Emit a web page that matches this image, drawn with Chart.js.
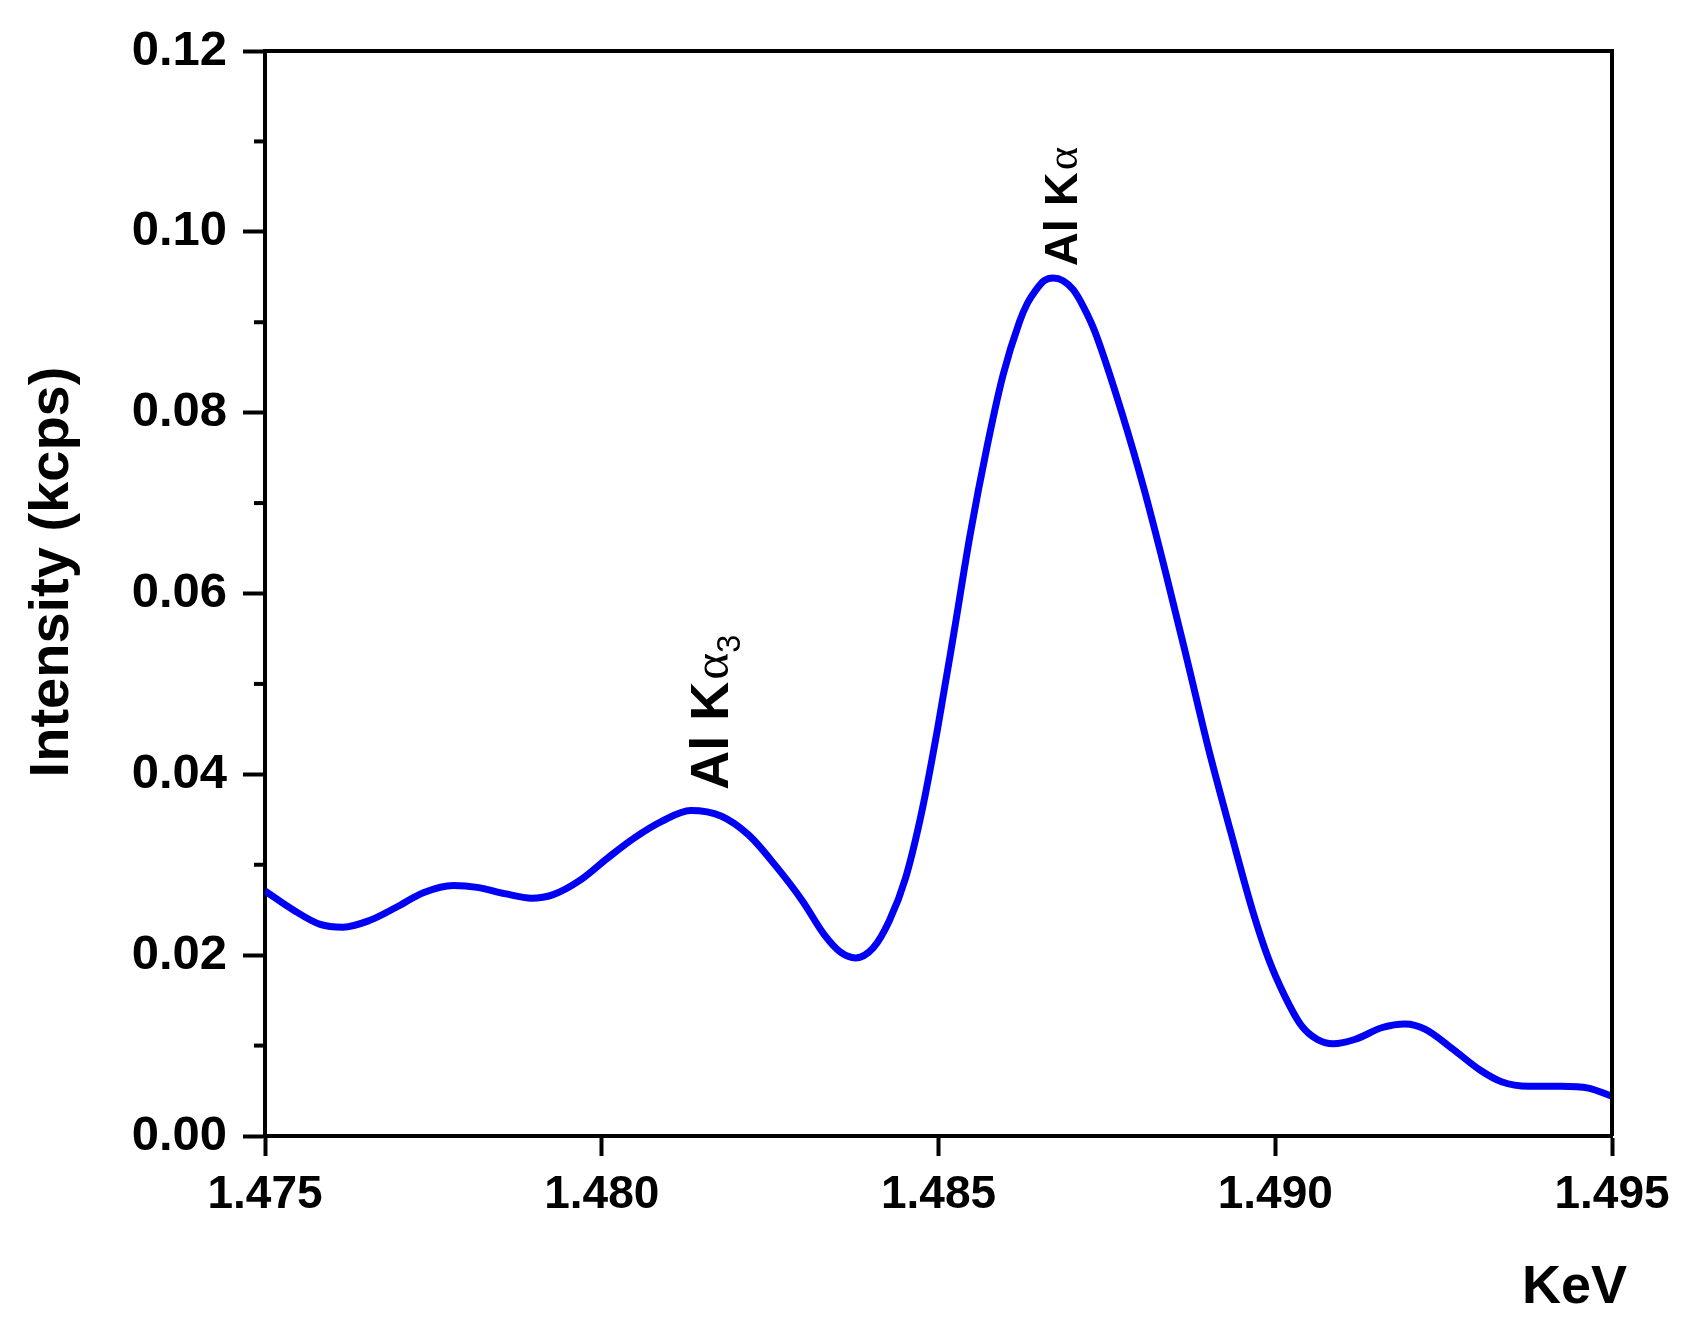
<!DOCTYPE html>
<html>
<head>
<meta charset="utf-8">
<script src="https://cdn.jsdelivr.net/npm/chart.js@4.4.1/dist/chart.umd.min.js"></script>
<style>
  html, body { margin: 0; padding: 0; background: #ffffff; }
  #wrap { width: 1702px; height: 1341px; position: relative; }
</style>
</head>
<body>
<div id="wrap"><canvas id="spectrum"></canvas></div>
<script>
const energy = [1.4750, 1.47542, 1.47582, 1.47616, 1.47654, 1.47695, 1.47735, 1.47780, 1.47815, 1.47856,
                1.47896, 1.47928, 1.47968, 1.48008, 1.48049, 1.48089, 1.48132, 1.48177, 1.48218, 1.48258,
                1.48298, 1.48330, 1.48355, 1.48377, 1.48403, 1.48427, 1.48451, 1.48475, 1.48499, 1.48523,
                1.48547, 1.48572, 1.48596, 1.48620, 1.48632, 1.48644, 1.48657, 1.48670, 1.48685, 1.48700,
                1.48716, 1.48732, 1.48773, 1.48805, 1.48837, 1.48869, 1.48902, 1.48934, 1.48966, 1.48990,
                1.49014, 1.49038, 1.49062, 1.49086, 1.49119, 1.49159, 1.49193, 1.49223, 1.49264, 1.49304,
                1.49336, 1.49376, 1.49424, 1.49465, 1.4950];
const intensity = [0.0271, 0.0250, 0.0234, 0.0231, 0.0238, 0.0253, 0.0269, 0.0277, 0.0275, 0.0268,
                   0.0263, 0.0267, 0.0283, 0.0307, 0.0330, 0.0348, 0.0360, 0.0354, 0.0333, 0.0299,
                   0.0260, 0.0223, 0.0203, 0.0197, 0.0208, 0.0238, 0.0285, 0.0358, 0.0452, 0.0557,
                   0.0665, 0.0762, 0.0842, 0.0900, 0.0921, 0.0935, 0.0946, 0.0949, 0.0946, 0.0936,
                   0.0916, 0.0890, 0.0798, 0.0716, 0.0624, 0.0527, 0.0425, 0.0336, 0.0250, 0.0196,
                   0.0155, 0.0123, 0.0107, 0.0102, 0.0107, 0.0120, 0.0124, 0.0118, 0.0096, 0.0073,
                   0.0060, 0.0055, 0.0055, 0.0053, 0.0044];

// Tick values
const xTicks = [1.475, 1.480, 1.485, 1.490, 1.495];
const yTicks = [0.00, 0.02, 0.04, 0.06, 0.08, 0.10, 0.12];
const yMinorTicks = [0.01, 0.03, 0.05, 0.07, 0.09, 0.11];

// Peak labels: [energy, intensity] where the rotated text baseline starts
const peakLabels = [
    { text: 'Al K', greek: '\u03B1', sub: '3', x: 1.48187, y: 0.0383, size: 54 },
    { text: 'Al K', greek: '\u03B1', sub: '',  x: 1.48706, y: 0.0962, size: 47 }
];

const points = energy.map((e, i) => ({ x: e, y: intensity[i] }));

// Frame, minor ticks, axis titles and peak labels
const decorations = {
    id: 'decorations',
    afterDraw(chart) {
        const ctx = chart.ctx;
        const area = chart.chartArea;
        const xs = chart.scales.x;
        const ys = chart.scales.y;
        ctx.save();

        // top and right frame lines
        ctx.strokeStyle = '#000';
        ctx.lineWidth = 4;
        ctx.beginPath();
        ctx.moveTo(area.left - 2, area.top);
        ctx.lineTo(area.right, area.top);
        ctx.lineTo(area.right, area.bottom);
        ctx.stroke();

        // minor ticks on the y axis
        yMinorTicks.forEach(v => {
            const py = ys.getPixelForValue(v);
            ctx.beginPath();
            ctx.moveTo(area.left, py);
            ctx.lineTo(area.left - 11, py);
            ctx.stroke();
        });

        ctx.fillStyle = '#000';

        // y title
        ctx.save();
        ctx.translate(68, 572);
        ctx.rotate(-Math.PI / 2);
        ctx.font = 'bold 56px "Liberation Sans", Arial, sans-serif';
        ctx.textAlign = 'center';
        ctx.textBaseline = 'alphabetic';
        ctx.fillText('Intensity (kcps)', 0, 0);
        ctx.restore();

        // x title
        ctx.font = 'bold 54px "Liberation Sans", Arial, sans-serif';
        ctx.textAlign = 'left';
        ctx.textBaseline = 'alphabetic';
        ctx.fillText('KeV', 1522, 1303);

        // rotated peak labels
        peakLabels.forEach(p => {
            const px = xs.getPixelForValue(p.x);
            const py = ys.getPixelForValue(p.y);
            ctx.save();
            ctx.translate(px, py);
            ctx.rotate(-Math.PI / 2);
            ctx.textAlign = 'left';
            ctx.textBaseline = 'alphabetic';
            ctx.font = 'bold ' + p.size + 'px "Liberation Sans", Arial, sans-serif';
            ctx.fillText(p.text, 0, 0);
            let w = ctx.measureText(p.text).width + 2;
            ctx.font = (p.size * 0.95) + 'px "Liberation Serif", "Times New Roman", serif';
            ctx.fillText(p.greek, w, 0);
            w += ctx.measureText(p.greek).width;
            if (p.sub) {
                ctx.font = (p.size * 0.6) + 'px "Liberation Sans", Arial, sans-serif';
                ctx.fillText(p.sub, w, p.size * 0.22);
            }
            ctx.restore();
        });

        ctx.restore();
    }
};

const ctx = document.getElementById('spectrum').getContext('2d');
const spectrumChart = new Chart(ctx, {
    type: 'line',
    data: {
        datasets: [{
            data: points,
            borderColor: '#0000f5',
            borderWidth: 7,
            pointRadius: 0,
            fill: false,
            cubicInterpolationMode: 'monotone'
        }]
    },
    options: {
        responsive: true,
        maintainAspectRatio: false,
        animation: false,
        layout: {
            padding: { left: 0, right: 90, top: 51, bottom: 0 }
        },
        plugins: {
            legend: { display: false },
            tooltip: { enabled: false },
            title: { display: false }
        },
        scales: {
            x: {
                type: 'linear',
                min: 1.475,
                max: 1.495,
                afterBuildTicks: scale => { scale.ticks = xTicks.map(v => ({ value: v })); },
                afterFit: scale => { scale.height = 205; },
                ticks: {
                    color: '#000',
                    padding: 12,
                    maxRotation: 0,
                    autoSkip: false,
                    font: { family: '"Liberation Sans", Arial, sans-serif', size: 46, weight: 'bold' },
                    callback: v => v.toFixed(3)
                },
                grid: {
                    drawOnChartArea: false,
                    tickLength: 20,
                    tickWidth: 4,
                    tickColor: '#000'
                },
                border: { color: '#000', width: 4 }
            },
            y: {
                min: 0,
                max: 0.12,
                afterBuildTicks: scale => { scale.ticks = yTicks.map(v => ({ value: v })); },
                afterFit: scale => { scale.width = 265; },
                ticks: {
                    color: '#000',
                    padding: 16,
                    autoSkip: false,
                    font: { family: '"Liberation Sans", Arial, sans-serif', size: 49, weight: 'bold' },
                    callback: v => v.toFixed(2)
                },
                grid: {
                    drawOnChartArea: false,
                    tickLength: 22,
                    tickWidth: 4,
                    tickColor: '#000'
                },
                border: { color: '#000', width: 4 }
            }
        }
    },
    plugins: [decorations]
});
</script>
</body>
</html>
